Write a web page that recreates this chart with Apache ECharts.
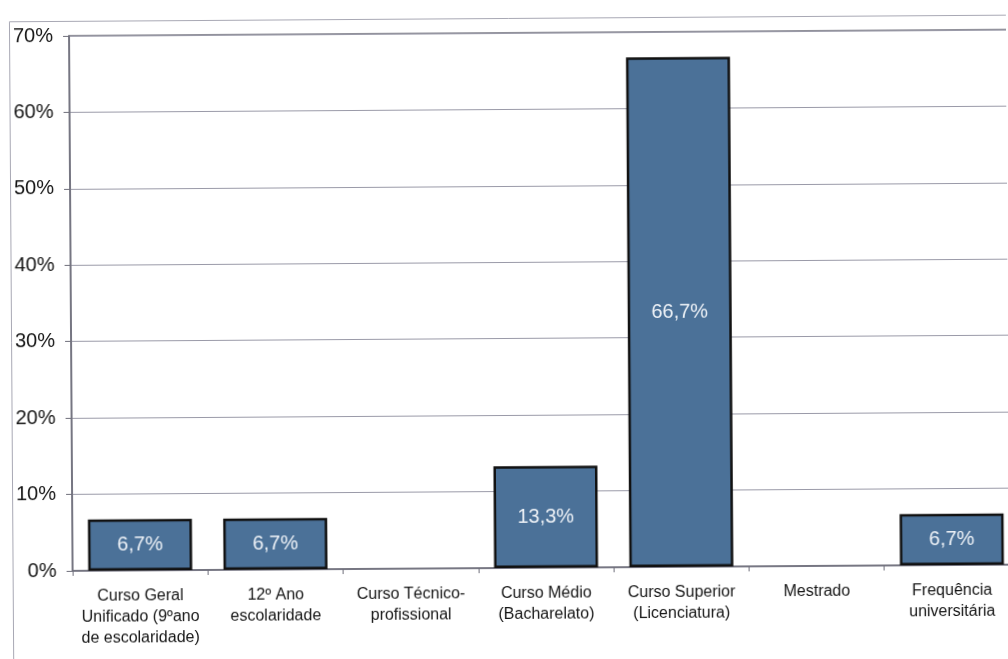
<!DOCTYPE html>
<html>
<head>
<meta charset="utf-8">
<script src="https://cdn.jsdelivr.net/npm/echarts@6/dist/echarts.min.js"></script>
<style>
  html, body { margin: 0; padding: 0; background: #ffffff; }
  #chart { width: 1008px; height: 659px; transform: rotate(-0.38deg); transform-origin: 50% 50%; }
</style>
</head>
<body>
<div id="chart"></div>
<script>
// Habilitações literárias (percentagem de respondentes)
const categories = [
  'Curso Geral\nUnificado (9ºano\nde escolaridade)',
  '12º Ano\nescolaridade',
  'Curso Técnico-\nprofissional',
  'Curso Médio\n(Bacharelato)',
  'Curso Superior\n(Licenciatura)',
  'Mestrado',
  'Frequência\nuniversitária'
];
const percentages = [6.7, 6.7, 0, 13.3, 66.7, 0, 6.7];
const yTicks = [0, 10, 20, 30, 40, 50, 60, 70];

const fmtPct = v => v.toFixed(1).replace('.', ',') + '%';

const chart = echarts.init(document.getElementById('chart'), null, { renderer: 'canvas' });

chart.setOption({
  backgroundColor: '#ffffff',
  animation: false,
  textStyle: { fontFamily: '"Liberation Sans", Arial, sans-serif' },
  graphic: [{
    type: 'rect',
    left: 9, top: 16,
    shape: { width: 1200, height: 800 },
    style: { fill: 'none', stroke: '#a8a8b4', lineWidth: 1 },
    silent: true
  }],
  grid: {
    left: 71, top: 33, right: -10, bottom: 91,
    outerBoundsMode: 'none',
    show: true, borderColor: '#6e6e7a', borderWidth: 1.5, backgroundColor: 'transparent'
  },
  xAxis: {
    type: 'category',
    data: categories,
    axisLine: { lineStyle: { color: '#6e6e7a', width: 1.5 } },
    axisTick: { show: true, length: 5, lineStyle: { color: '#6e6e7a' } },
    axisLabel: {
      interval: 0, color: '#151515', fontSize: 16, lineHeight: 21, margin: 15,
      fontFamily: '"Liberation Sans", Arial, sans-serif'
    }
  },
  yAxis: {
    type: 'value',
    min: yTicks[0], max: yTicks[yTicks.length - 1], interval: 10,
    axisLine: { show: true, lineStyle: { color: '#6e6e7a', width: 1.5 } },
    axisTick: { show: true, length: 6, lineStyle: { color: '#6e6e7a' } },
    axisLabel: {
      formatter: '{value}%', color: '#151515', fontSize: 20, margin: 16,
      fontFamily: '"Liberation Sans", Arial, sans-serif'
    },
    splitLine: { show: true, lineStyle: { color: '#9a9aa8', width: 1 } }
  },
  series: [{
    type: 'bar',
    barWidth: 104,
    data: percentages.map(v => v === 0
      ? { value: v, itemStyle: { borderWidth: 0 }, label: { show: false } }
      : { value: v }),
    itemStyle: { color: '#4b7198', borderColor: '#111111', borderWidth: 2.5 },
    label: {
      show: true, position: 'inside', color: '#eef2f7', fontSize: 20,
      fontFamily: '"Liberation Sans", Arial, sans-serif',
      formatter: p => fmtPct(p.value)
    }
  }]
});
</script>
</body>
</html>
